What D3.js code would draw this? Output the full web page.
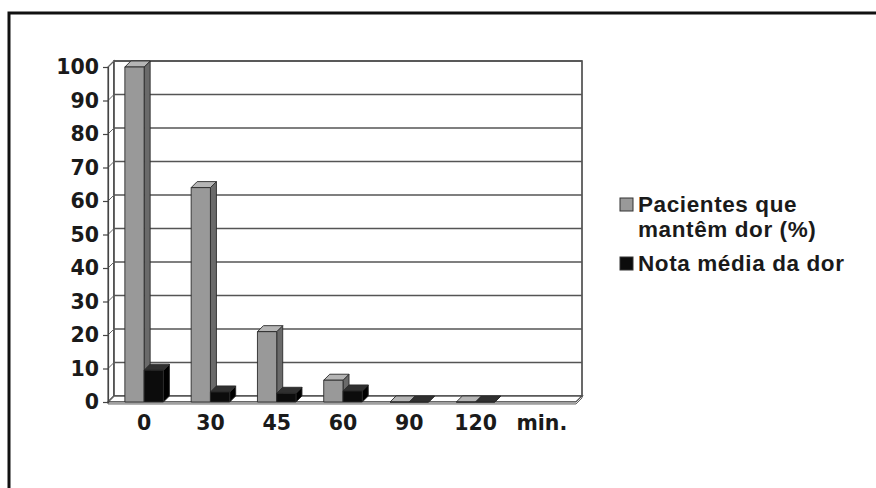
<!DOCTYPE html>
<html>
<head>
<meta charset="utf-8">
<script src="https://cdn.jsdelivr.net/npm/d3@7"></script>
<style>
  body { margin: 0; background: #fff; }
  svg { display: block; }
</style>
</head>
<body>
<script>
// dados
var categories = ["0", "30", "45", "60", "90", "120", "min."];
var pacientes = [100, 64, 21, 6.5, 0, 0];      // Pacientes que mantêm dor (%)
var notaMedia = [9.5, 3, 2.6, 3.3, 0, 0];      // Nota média da dor
var yTicks = [0, 10, 20, 30, 40, 50, 60, 70, 80, 90, 100];
var seriesNames = ["Pacientes que|mantêm dor (%)", "Nota média da dor"];

var width = 876, height = 488;
var depthX = 6, depthY = 6;   // profundidade do efeito 3D

var svg = d3.select("body").append("svg")
    .attr("width", width)
    .attr("height", height);

// moldura
svg.append("rect")
    .attr("x", 9).attr("y", 13)
    .attr("width", width).attr("height", height)
    .attr("fill", "none")
    .attr("stroke", "#111")
    .attr("stroke-width", 3);

var x = d3.scaleBand()
    .domain(categories)
    .range([111, 575]);
var xSub = d3.scaleBand()
    .domain([0, 1])
    .range([0, x.bandwidth()])
    .paddingOuter(0.72);
var yFront = d3.scaleLinear().domain([0, 100]).range([402, 67]);
function yBack(v) { return yFront(v) - depthY; }

var frontL = 108, frontR = 576;
var backL = frontL + depthX, backR = frontR + depthX;

// parede esquerda, fundo e chão
var walls = svg.append("g").attr("class", "walls");
walls.append("polygon")
    .attr("points", [[frontL, yFront(0)], [frontL, yFront(100)], [backL, yBack(100)], [backL, yBack(0)]].join(" "))
    .attr("fill", "#fff").attr("stroke", "#555").attr("stroke-width", 1.2);
walls.append("rect")
    .attr("x", backL).attr("y", yBack(100))
    .attr("width", backR - backL).attr("height", yBack(0) - yBack(100))
    .attr("fill", "#fff").attr("stroke", "#444").attr("stroke-width", 1.6);
walls.append("polygon")
    .attr("points", [[frontL, yFront(0)], [frontR, yFront(0)], [backR, yBack(0)], [backL, yBack(0)]].join(" "))
    .attr("fill", "#fff").attr("stroke", "#555").attr("stroke-width", 1.5);
walls.append("polygon")
    .attr("points", [[frontL, yFront(0)], [frontR, yFront(0)], [backR, yBack(0)], [backR, yBack(0) + 2], [frontR, yFront(0) + 2], [frontL, yFront(0) + 2]].join(" "))
    .attr("fill", "#ddd").attr("stroke", "#444").attr("stroke-width", 0.8);

// linhas de grade
var grid = svg.append("g").attr("class", "grid");
grid.selectAll("line.back")
    .data(yTicks.slice(1))
    .enter().append("line")
      .attr("class", "back")
      .attr("x1", backL).attr("x2", backR)
      .attr("y1", function(d) { return yBack(d); })
      .attr("y2", function(d) { return yBack(d); })
      .attr("stroke", "#555").attr("stroke-width", 1.7);
grid.selectAll("line.side")
    .data(yTicks)
    .enter().append("line")
      .attr("class", "side")
      .attr("x1", frontL).attr("x2", backL)
      .attr("y1", function(d) { return yFront(d); })
      .attr("y2", function(d) { return yBack(d); })
      .attr("stroke", "#666").attr("stroke-width", 1);

// eixo y
var yAxis = svg.append("g")
    .attr("transform", "translate(" + frontL + ",0)")
    .call(d3.axisLeft(yFront).tickValues(yTicks).tickSize(5).tickPadding(4));
yAxis.select(".domain").attr("stroke", "#444").attr("stroke-width", 1.2);
yAxis.selectAll(".tick line").attr("stroke", "#444").attr("stroke-width", 1.2);
yAxis.selectAll(".tick text")
    .attr("font-family", "DejaVu Sans")
    .attr("font-weight", "bold")
    .attr("font-size", 20.5)
    .attr("fill", "#1a1a1a");

// eixo x (só os rótulos)
var xAxis = svg.append("g")
    .attr("transform", "translate(0," + yFront(0) + ")")
    .call(d3.axisBottom(x).tickSize(0).tickPadding(13));
xAxis.select(".domain").remove();
xAxis.selectAll(".tick text")
    .attr("font-family", "DejaVu Sans")
    .attr("font-weight", "bold")
    .attr("font-size", 20.5)
    .attr("fill", "#1a1a1a");

// barras 3D
var colors = [
  { front: "#999999", side: "#6a6a6a", top: "#b5b5b5" },
  { front: "#0c0c0c", side: "#000000", top: "#303030" }
];
var bars = [];
pacientes.forEach(function(v, i) {
  bars.push({ cat: categories[i], s: 0, v: v });
  bars.push({ cat: categories[i], s: 1, v: notaMedia[i] });
});

var barG = svg.append("g").attr("class", "bars")
  .selectAll("g")
  .data(bars)
  .enter().append("g");
function faces(d) {
  var x0 = x(d.cat) + xSub(d.s), x1 = x0 + xSub.bandwidth();
  var yt = yFront(d.v), yb = yFront(0);
  return {
    front: [[x0, yt], [x1, yt], [x1, yb], [x0, yb]],
    side: [[x1, yt], [x1 + depthX, yt - depthY], [x1 + depthX, yb - depthY], [x1, yb]],
    top: [[x0, yt], [x0 + depthX, yt - depthY], [x1 + depthX, yt - depthY], [x1, yt]]
  };
}
["side", "top", "front"].forEach(function(f) {
  barG.append("polygon")
    .attr("points", function(d) { return faces(d)[f].join(" "); })
    .attr("fill", function(d) { return colors[d.s][f]; })
    .attr("stroke", "#2a2a2a")
    .attr("stroke-width", 0.9)
    .attr("stroke-linejoin", "round");
});

// legenda
var legend = svg.append("g").attr("class", "legend");
var legendY = [212, 271];
seriesNames.forEach(function(name, i) {
  legend.append("rect")
    .attr("x", 620).attr("y", legendY[i] - 14)
    .attr("width", 13).attr("height", 13)
    .attr("fill", colors[i].front)
    .attr("stroke", "#333").attr("stroke-width", 1);
  var t = legend.append("text")
    .attr("x", 638).attr("y", legendY[i])
    .attr("font-family", "Liberation Sans")
    .attr("font-weight", "bold")
    .attr("font-size", 22.5)
    .attr("letter-spacing", 0.6)
    .attr("fill", "#1a1a1a");
  name.split("|").forEach(function(line, j) {
    t.append("tspan")
      .attr("x", 638)
      .attr("dy", j == 0 ? 0 : 25)
      .text(line);
  });
});
</script>
</body>
</html>
